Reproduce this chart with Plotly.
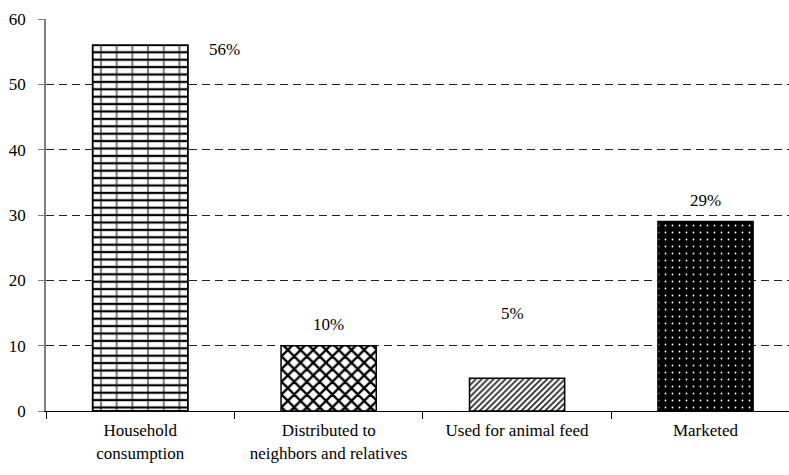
import plotly.graph_objects as go

# Use of harvested produce (% of households)
categories = [
    "Household<br>consumption",
    "Distributed to<br>neighbors and relatives",
    "Used for animal feed",
    "Marketed",
]
shares = [56, 10, 5, 29]
y_ticks = [0, 10, 20, 30, 40, 50, 60]

# Fill texture per category
pattern_shape = ["-", "x", "/", "."]
pattern_fg = ["black", "black", "#222222", "white"]
pattern_bg = ["white", "white", "white", "black"]
pattern_size = [7.4, 9, 4.2, 7]
pattern_solidity = [0.3, 0.45, 0.4, 0.05]

# Label placement offsets (pixels) relative to each bar top
label_dx = [84, 0, -5, 0]
label_dy = [-4, 21, 65, 21]

FONT = "'Times New Roman', 'Liberation Serif', 'DejaVu Serif', serif"

fig = go.Figure()

for i, (cat, v) in enumerate(zip(categories, shares)):
    fig.add_trace(go.Bar(
        x=[cat],
        y=[v],
        width=0.505,
        marker=dict(
            color=pattern_bg[i],
            line=dict(color="black", width=1.5),
            pattern=dict(
                shape=pattern_shape[i],
                fgcolor=pattern_fg[i],
                bgcolor=pattern_bg[i],
                size=pattern_size[i],
                solidity=pattern_solidity[i],
                fillmode="replace",
            ),
        ),
        hoverinfo="x+y",
        showlegend=False,
    ))

# Vertical mortar joints over the brick texture
fig.add_trace(go.Bar(
    x=[categories[0]],
    y=[shares[0]],
    width=0.505,
    marker=dict(
        color="rgba(0,0,0,0)",
        line=dict(color="black", width=1.5),
        pattern=dict(shape="|", fgcolor="black", bgcolor="rgba(0,0,0,0)",
                     size=15.7, solidity=0.13, fillmode="overlay"),
    ),
    hoverinfo="skip",
    showlegend=False,
))

for cat, v, dx, dy in zip(categories, shares, label_dx, label_dy):
    fig.add_annotation(
        x=cat, y=v, text=f"{v}%", showarrow=False,
        xshift=dx, yshift=dy, yanchor="middle",
        font=dict(family=FONT, size=17, color="black"),
    )

fig.update_layout(
    width=789, height=475,
    margin=dict(l=46, r=0, t=19, b=64),
    barmode="overlay",
    plot_bgcolor="white",
    paper_bgcolor="white",
    font=dict(family=FONT, size=17, color="black"),
    xaxis=dict(
        type="category",
        categoryorder="array",
        categoryarray=categories,
        range=[-0.5, 3.443],
        showgrid=False,
        showline=True, linecolor="black", linewidth=1,
        ticks="outside", ticklen=7, tickcolor="black", tickwidth=1,
        tickson="boundaries",
        tickfont=dict(family=FONT, size=17, color="black"),
        ticklabelstandoff=4,
    ),
    yaxis=dict(
        range=[0, 60],
        tickvals=y_ticks,
        showgrid=True, gridcolor="#222222", gridwidth=1, griddash="8px,5px",
        zeroline=False,
        showline=True, linecolor="#808080", linewidth=1.5,
        ticks="outside", ticklen=6, tickcolor="#808080", tickwidth=1,
        tickfont=dict(family=FONT, size=17, color="black"),
        ticklabelstandoff=9,
    ),
)

fig.write_html("out.html")
